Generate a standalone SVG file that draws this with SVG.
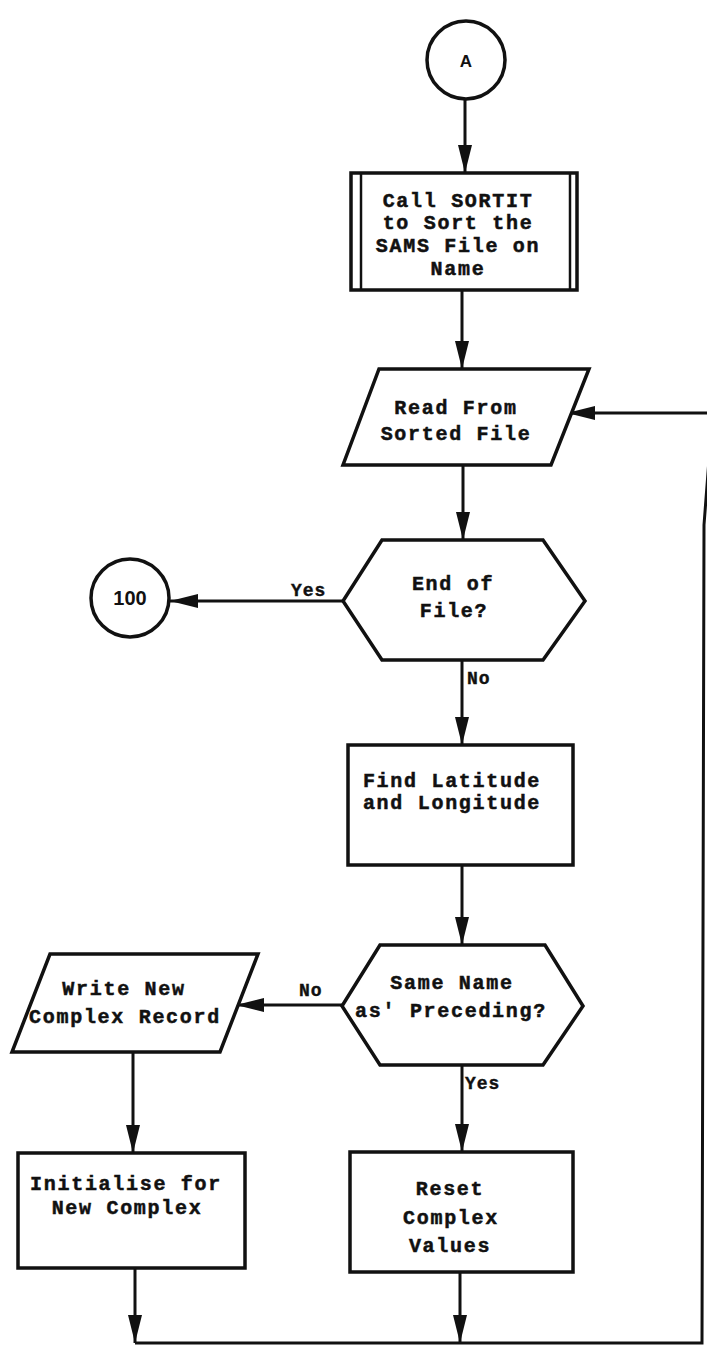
<svg xmlns="http://www.w3.org/2000/svg" width="707" height="1351" viewBox="0 0 707 1351">
<style>
.shape{fill:#fff;stroke:#111;stroke-width:3.5;stroke-linejoin:miter}
.inner{stroke:#111;stroke-width:2.5}
.edge{fill:none;stroke:#111;stroke-width:3}
.t{font-family:"Liberation Mono","DejaVu Sans Mono",monospace;font-weight:bold;font-size:20px;letter-spacing:1.7px;fill:#111;stroke:#111;stroke-width:0.5;text-anchor:middle}
.lbl{font-family:"Liberation Mono","DejaVu Sans Mono",monospace;font-weight:bold;font-size:18px;letter-spacing:1px;fill:#111;stroke:#111;stroke-width:0.4}
.c{font-family:"Liberation Sans",Arial,sans-serif;font-weight:bold;font-size:20px;fill:#111;text-anchor:middle}
</style>
<defs>
<marker id="ah" markerUnits="userSpaceOnUse" markerWidth="28" markerHeight="14" refX="28" refY="7" orient="auto">
<path d="M0,0 L28,7 L0,14 Z" fill="#111"/>
</marker>
</defs>
<rect width="707" height="1351" fill="#fff"/>
<g id="connectors">
<path class="edge" d="M465,98 L465,173" marker-end="url(#ah)"/>
<path class="edge" d="M462,290 L462,369" marker-end="url(#ah)"/>
<path class="edge" d="M463,465 L463,540" marker-end="url(#ah)"/>
<path class="edge" d="M343,601 L170,601" marker-end="url(#ah)"/>
<text class="lbl" x="291" y="596">Yes</text>
<path class="edge" d="M462,660 L462,745" marker-end="url(#ah)"/>
<text class="lbl" x="467" y="684">No</text>
<path class="edge" d="M462,865 L462,945" marker-end="url(#ah)"/>
<path class="edge" d="M342,1005 L236,1005" marker-end="url(#ah)"/>
<text class="lbl" x="299" y="996">No</text>
<path class="edge" d="M462,1065 L462,1152" marker-end="url(#ah)"/>
<text class="lbl" x="465" y="1089">Yes</text>
<path class="edge" d="M133,1052 L133,1153" marker-end="url(#ah)"/>
<path class="edge" d="M135,1268 L135,1343" marker-end="url(#ah)"/>
<path class="edge" d="M460,1272 L460,1343" marker-end="url(#ah)"/>
<path class="edge" d="M135,1343 L702,1343 L704,525 L712,420 L712,413 L567,413" marker-end="url(#ah)"/>
</g>
<g id="nodeA">
<circle class="shape" cx="466" cy="60" r="39"/>
<text class="c" x="466" y="67" style="font-size:17px">A</text>
</g>
<g id="sortit">
<rect class="shape" x="351" y="173" width="226" height="117"/>
<line class="inner" x1="361" y1="173" x2="361" y2="290"/>
<line class="inner" x1="570" y1="173" x2="570" y2="290"/>
<text class="t" x="458" y="207">Call SORTIT</text>
<text class="t" x="458" y="229">to Sort the</text>
<text class="t" x="458" y="252">SAMS File on</text>
<text class="t" x="458" y="275">Name</text>
</g>
<g id="read">
<polygon class="shape" points="379,369 589,369 551,465 343,465"/>
<text class="t" x="456" y="414">Read From</text>
<text class="t" x="456" y="440">Sorted File</text>
</g>
<g id="eof">
<polygon class="shape" points="382,540 543,540 585,601 543,660 382,660 343,601"/>
<text class="t" x="453" y="590">End of</text>
<text class="t" x="454" y="617">File?</text>
</g>
<g id="node100">
<circle class="shape" cx="130" cy="598" r="39"/>
<text class="c" x="130" y="605">100</text>
</g>
<g id="findlat">
<rect class="shape" x="348" y="745" width="225" height="120"/>
<text class="t" x="452" y="787">Find Latitude</text>
<text class="t" x="452" y="809">and Longitude</text>
</g>
<g id="samename">
<polygon class="shape" points="380,945 545,945 583,1006 543,1065 380,1065 342,1006"/>
<text class="t" x="452" y="989">Same Name</text>
<text class="t" x="451" y="1017">as' Preceding?</text>
</g>
<g id="write">
<polygon class="shape" points="50,954 258,954 220,1052 12,1052"/>
<text class="t" x="124" y="995">Write New</text>
<text class="t" x="125" y="1023">Complex Record</text>
</g>
<g id="init">
<rect class="shape" x="18" y="1153" width="227" height="115"/>
<text class="t" x="126" y="1190">Initialise for</text>
<text class="t" x="127" y="1214">New Complex</text>
</g>
<g id="reset">
<rect class="shape" x="350" y="1152" width="223" height="120"/>
<text class="t" x="450" y="1195">Reset</text>
<text class="t" x="451" y="1224">Complex</text>
<text class="t" x="450" y="1252">Values</text>
</g>
</svg>
